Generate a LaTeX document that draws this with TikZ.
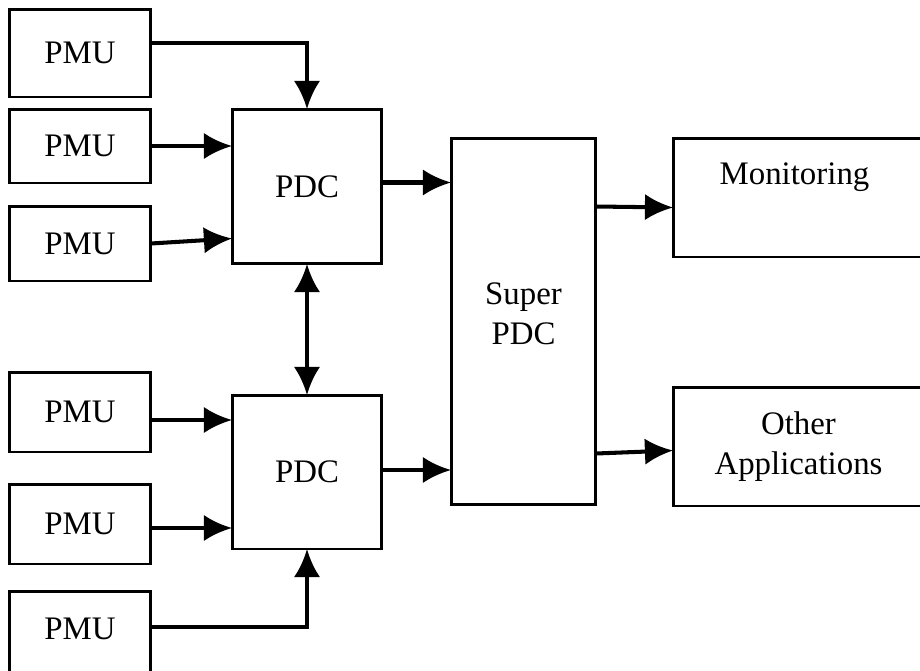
\documentclass[tikz,border=0pt]{standalone}
\usepackage{fontspec}
\setmainfont{Liberation Serif}
\usetikzlibrary{arrows.meta,calc}

\begin{document}
\begin{tikzpicture}[x=0.02cm,y=-0.02cm,
  box/.style={draw,line width=1.7pt,inner sep=0pt,outer sep=0pt,align=center,
    font=\fontsize{18.7}{22.8}\selectfont},
  pmubox/.style={box,minimum width=2.84cm},
  flow/.style={line width=2.3pt,-{Latex[length=16pt,width=15pt]}},
  bothway/.style={line width=2.3pt,{Latex[length=16pt,width=15pt]}-{Latex[length=16pt,width=15pt]}}]
\clip (0,0) rectangle (920,670);

\node[pmubox,minimum height=1.76cm] (pmu1) at (80,53) {PMU};
\node[pmubox,minimum height=1.48cm] (pmu2) at (80,146) {PMU};
\node[pmubox,minimum height=1.5cm] (pmu3) at (80,243.5) {PMU};
\node[pmubox,minimum height=1.6cm] (pmu4) at (80,412) {PMU};
\node[pmubox,minimum height=1.6cm] (pmu5) at (80,524) {PMU};
\node[pmubox,minimum height=1.8cm,text depth=0.3cm] (pmu6) at (80,636) {PMU};

\node[box,minimum width=3cm,minimum height=3.1cm] (pdc1) at (307,186.5) {PDC};
\node[box,minimum width=3cm,minimum height=3.08cm] (pdc2) at (307,472) {PDC};
\node[box,minimum width=2.9cm,minimum height=7.34cm,text depth=0.3cm] (super) at (523.5,321.5) {Super\\PDC};

\node[box,minimum width=5.02cm,minimum height=2.38cm] (mon) at (798.5,197.5) {};
\node[box,draw=none] (montext) at ($(mon.north)+(-4,39)$) {Monitoring};
\node[box,minimum width=5.02cm,minimum height=2.38cm] (other) at (798.5,446.5) {Other\\Applications};

% PMUs to PDCs
\draw[flow] ($(pmu1.east)+(0,-10)$) -| (pdc1.north);
\draw[flow] (pmu2.east) -- (pmu2.east -| pdc1.west);
\draw[flow] (pmu3.east) -- ($(pdc1.west)+(0,52)$);
\draw[flow] ($(pmu4.east)+(0,8)$) -- ($(pmu4.east -| pdc2.west)+(0,8)$);
\draw[flow] ($(pmu5.east)+(0,4)$) -- ($(pmu5.east -| pdc2.west)+(0,4)$);
\draw[flow] ($(pmu6.east)+(0,-9)$) -| (pdc2.south);
\draw[bothway] (pdc1.south) -- (pdc2.north);

% PDCs to super PDC and on
\draw[flow] ($(pdc1.east)+(0,-4)$) -- ($(pdc1.east -| super.west)+(0,-4)$);
\draw[flow] ($(pdc2.east)+(0,-2)$) -- ($(pdc2.east -| super.west)+(0,-2)$);
\draw[flow] ($(super.east)+(0,-115)$) -- ($(mon.west)+(0,10)$);
\draw[flow] ($(super.east)+(0,132)$) -- ($(other.west)+(0,4)$);
\end{tikzpicture}
\end{document}
